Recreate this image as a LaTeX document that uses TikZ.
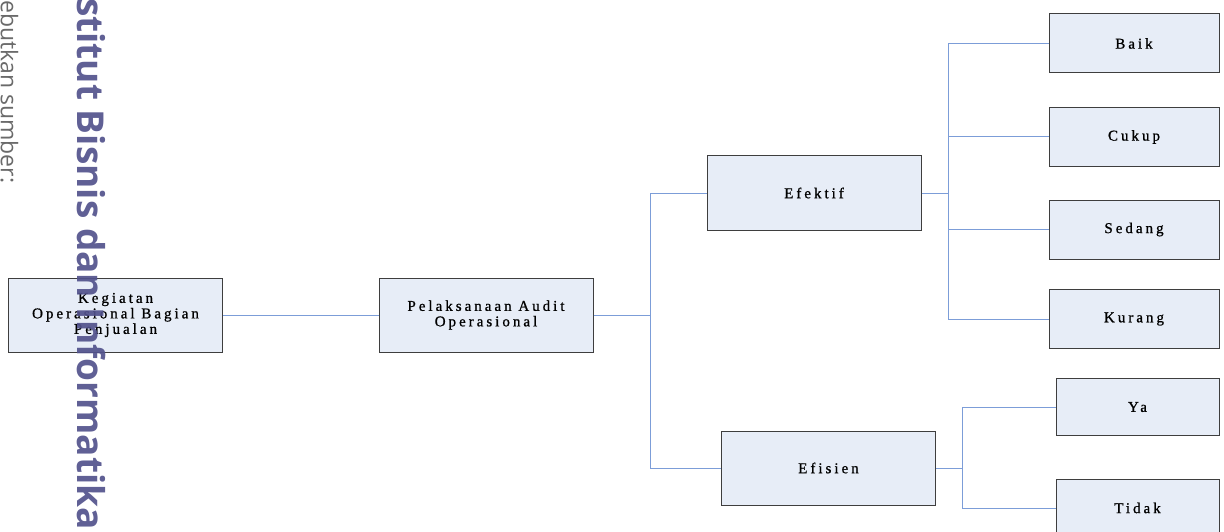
\documentclass[tikz,border=0pt]{standalone}
\usepackage{fontspec}
\setmainfont{Liberation Serif}
\newfontfamily\boxfont[LetterSpace=20,FakeBold=0.9]{Liberation Serif}
\newfontfamily\markfont{Open Sans}
\definecolor{boxfill}{HTML}{E7EDF7}
\definecolor{boxline}{HTML}{3E3E3E}
\definecolor{connblue}{HTML}{7C9DD8}
\definecolor{markblue}{HTML}{52528C}
\definecolor{markgray}{HTML}{6A6A6A}
\tikzset{
  box/.style={draw=boxline, fill=boxfill, line width=1pt, inner sep=0pt,
    align=center, text=black, minimum width=214pt, minimum height=74pt,
    font=\boxfont\fontsize{15}{15.5}\selectfont},
  leaf/.style={box, minimum width=170pt, minimum height=59pt},
  leafb/.style={box, minimum width=163pt, minimum height=57pt},
  conn/.style={draw=connblue, line width=1pt},
}
\begin{document}
\begin{tikzpicture}[x=1pt, y=-1pt]
\useasboundingbox (0,0) rectangle (1224,532);
\clip (0,0) rectangle (1224,532);

% main chain
\node[box] (keg) at (115.5,315) {Kegiatan\\Operasional Bagian\\Penjualan};
\node[box] (pel) at (486,315) {Pelaksanaan Audit\\Operasional};
\node[box] (efk) at (814,193) {Efektif};
\node[box] (efs) at (828.5,468) {Efisien};

% outcomes of Efektif
\node[leaf] (baik)   at (1134,43.5)  {Baik};
\node[leaf] (cukup)  at (1134,137)   {Cukup};
\node[leaf] (sedang) at (1134,229.5) {Sedang};
\node[leaf] (kurang) at (1134,319)   {Kurang};

% outcomes of Efisien
\node[leafb] (ya)    at (1137.5,407) {Ya};
\node[leafb] (tidak) at (1137.5,508) {Tidak};

% junction points
\coordinate (j1) at (650,315);
\coordinate (j2) at (948,193);
\coordinate (j3) at (962,468);

% connectors
\draw[conn] (keg.east) -- (pel.west);
\draw[conn] (pel.east) -- (j1) |- (efk.west);
\draw[conn] (j1) |- (efs.west);
\draw[conn] (efk.east) -- (j2) |- (baik.west);
\draw[conn] (j2) |- (cukup.west);
\draw[conn] (j2) |- (sedang.west);
\draw[conn] (j2) |- (kurang.west);
\draw[conn] (efs.east) -- (j3) |- (ya.west);
\draw[conn] (j3) |- (tidak.west);

% vertical margin text
\node[rotate=-90, anchor=base west, inner sep=0pt, text=markgray,
  font=\markfont\fontsize{23}{23}\selectfont] (note) at (1,0) {ebutkan sumber:};
\node[rotate=-90, anchor=base west, inner sep=0pt, text=markblue, opacity=0.92,
  font=\markfont\bfseries\fontsize{37}{37}\selectfont] (mark) at (77,-2) {stitut Bisnis dan Informatika};
\end{tikzpicture}
\end{document}
